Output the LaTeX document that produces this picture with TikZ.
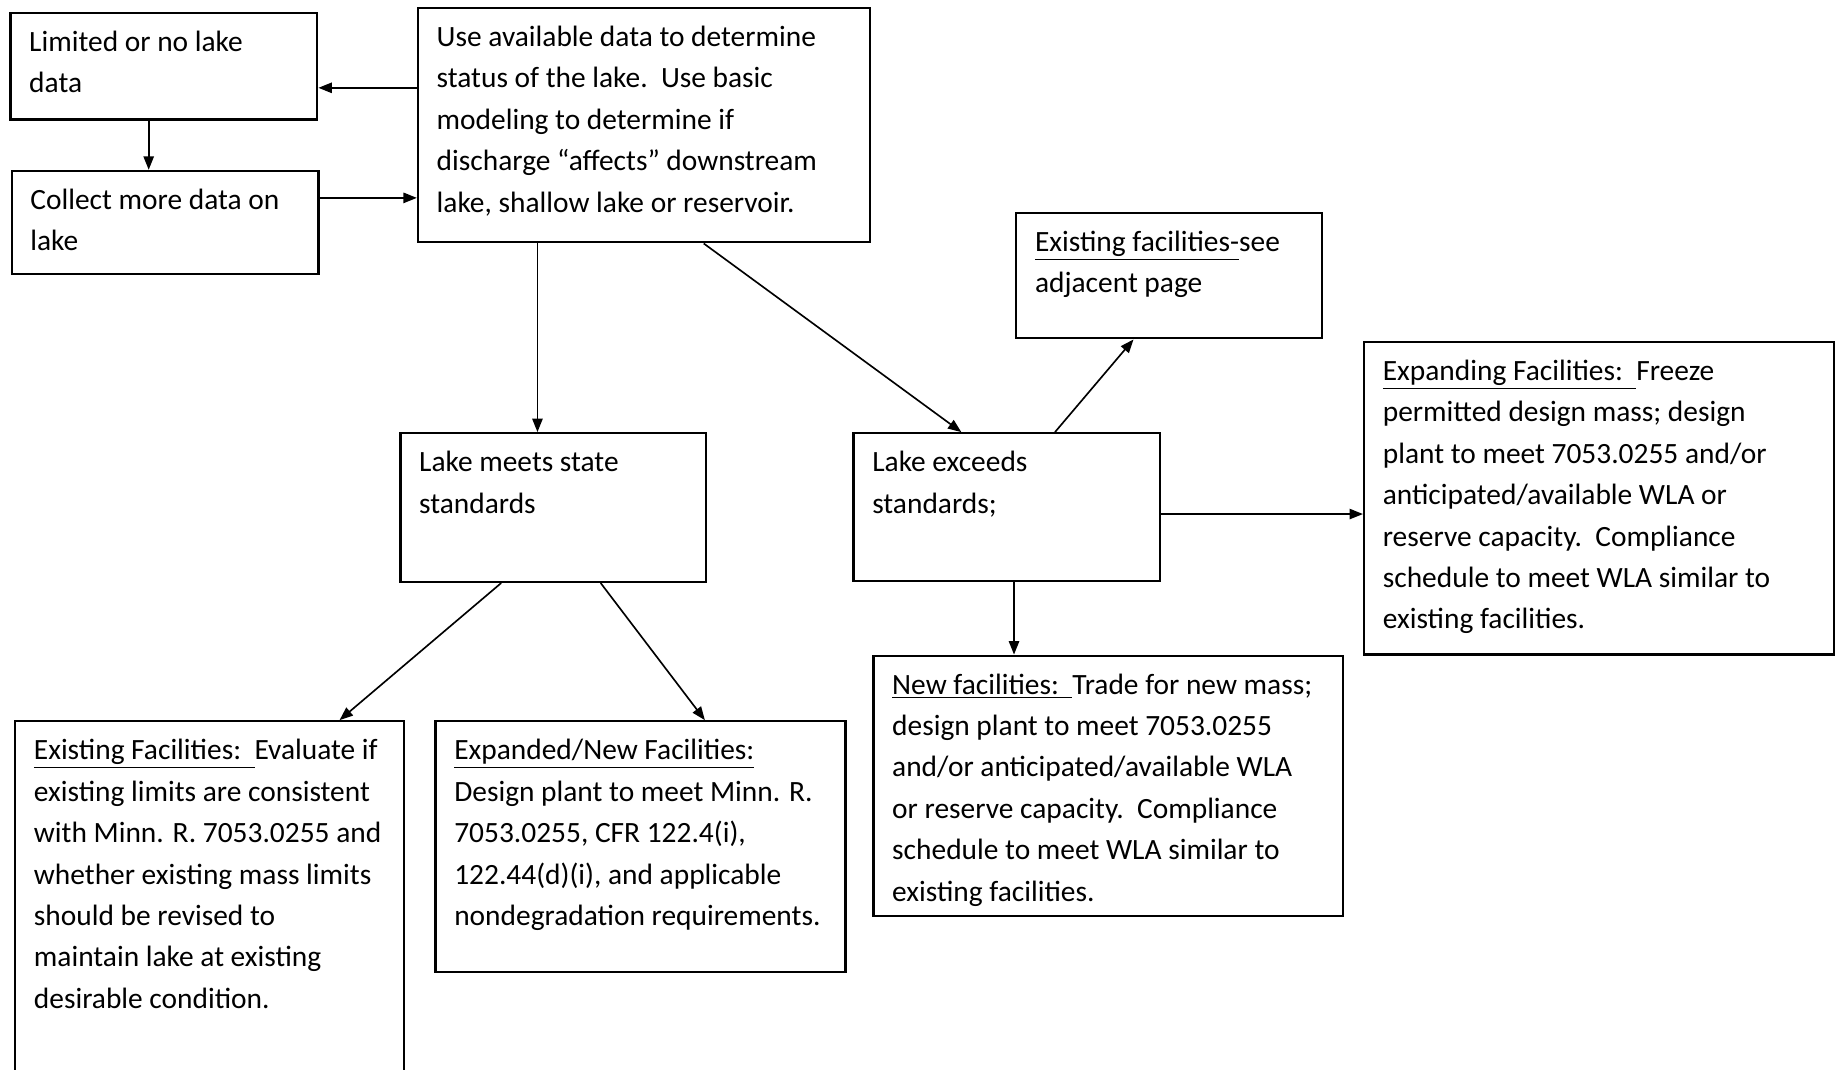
\documentclass[tikz,border=0pt]{standalone}
\usepackage{fontspec}
\setmainfont{Carlito}
\usetikzlibrary{arrows.meta}
\newlength{\px}
\setlength{\px}{0.02cm}
% top aligned text of fixed size inside a box
\newcommand{\boxtext}[3]{\parbox[t][#2\px][t]{#1\px}{\raggedright\strut #3}}

\begin{document}
\begin{tikzpicture}[x=0.02cm, y=-0.02cm,
    box/.style={draw, line width=1.1pt, anchor=north west, inner xsep=16\px, inner ysep=8\px,
        font=\fontsize{14.3pt}{20.15pt}\selectfont},
    arr/.style={line width=0.8pt, -{Triangle[length=6.5pt, width=5pt]}}]
    \fill[white] (0,0) rectangle (1568,913);
    \clip (0,0) rectangle (1568,913);

    % top left part
    \node[box] (lim) at (8,10) {\boxtext{230}{75}{Limited or no lake\\ data}};
    \node[box] (col) at (9,145) {\boxtext{230}{72}{Collect more data on\\ lake}};
    \node[box] (use) at (356,6) {\boxtext{354}{184}{Use available data to determine\\
        status of the lake.\ \ Use basic\\ modeling to determine if\\
        discharge “affects” downstream\\ lake, shallow lake or reservoir.}};

    % lake status
    \node[box] (meet) at (341,369) {\boxtext{229}{111}{Lake meets state\\ standards}};
    \node[box] (exc) at (728,369) {\boxtext{230}{110}{Lake exceeds\\ standards;}};

    % facilities
    \node[box] (exist) at (867,181) {\boxtext{229}{91}{\underline{Existing facilities-}see\\ adjacent page}};
    \node[box] (expand) at (1164,291) {\boxtext{369}{251}{\underline{Expanding Facilities:\ \ }Freeze\\
        permitted design mass; design\\ plant to meet 7053.0255 and/or\\
        anticipated/available WLA or\\ reserve capacity.\ \ Compliance\\
        schedule to meet WLA similar to\\ existing facilities.}};
    \node[box] (new) at (745,559) {\boxtext{369}{206}{\underline{New facilities:\ \ }Trade for new mass;\\
        design plant to meet 7053.0255\\ and/or anticipated/available WLA\\
        or reserve capacity.\ \ Compliance\\ schedule to meet WLA similar to\\
        existing facilities.}};
    \node[box] (evalx) at (12,615) {\boxtext{300}{306}{\underline{Existing Facilities:\ \ }Evaluate if\\
        existing limits are consistent\\ with Minn. R. 7053.0255 and\\
        whether existing mass limits\\ should be revised to\\
        maintain lake at existing\\ desirable condition.}};
    \node[box] (expnew) at (371,615) {\boxtext{318}{198}{\underline{Expanded/New Facilities:}\\
        Design plant to meet Minn. R.\\ 7053.0255, CFR 122.4(i),\\
        122.44(d)(i), and applicable\\ nondegradation requirements.}};

    % connectors
    \draw[arr] (use.west |- 0,75) -- (lim.east |- 0,75);
    \draw[arr] (lim.south -| 127,0) -- (col.north -| 127,0);
    \draw[arr] (col.east |- 0,169) -- (use.west |- 0,169);
    \draw[arr] (use.south -| 459,0) -- (meet.north -| 459,0);
    \draw[arr] (use.south -| 601,0) -- (exc.north -| 821,0);
    \draw[arr] (exc.north -| 901,0) -- (exist.south -| 968,0);
    \draw[arr] (exc.east |- 0,439) -- (expand.west |- 0,439);
    \draw[arr] (exc.south -| 866,0) -- (new.north -| 866,0);
    \draw[arr] (meet.south -| 428,0) -- (evalx.north -| 290,0);
    \draw[arr] (meet.south -| 513,0) -- (expnew.north -| 602,0);
\end{tikzpicture}
\end{document}
